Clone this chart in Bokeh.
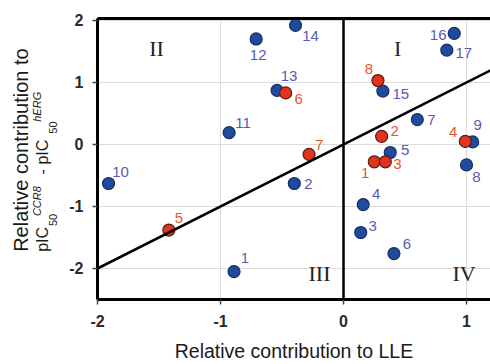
import math
from bokeh.plotting import figure
from bokeh.layouts import row
from bokeh.models import (Span, Slope, FixedTicker, LinearAxis,
                          ColumnDataSource, Range1d)
from bokeh.core.properties import value
from bokeh.embed import file_html
from bokeh.resources import INLINE

# ---------------- data ----------------
blue_ids = ["1", "2", "3", "4", "5", "6", "7", "8", "9", "10", "11", "12",
            "13", "14", "15", "16", "17"]
blue_lle = [-0.89, -0.40, 0.14, 0.16, 0.38, 0.41, 0.60, 1.00, 1.05, -1.91,
            -0.93, -0.71, -0.54, -0.39, 0.32, 0.90, 0.84]
blue_sel = [-2.05, -0.63, -1.42, -0.97, -0.13, -1.76, 0.40, -0.33, 0.04, -0.63,
            0.19, 1.70, 0.87, 1.92, 0.86, 1.79, 1.52]

red_ids = ["1", "2", "3", "4", "5", "6", "7", "8"]
red_lle = [0.25, 0.31, 0.34, 0.99, -1.42, -0.47, -0.28, 0.28]
red_sel = [-0.28, 0.13, -0.28, 0.05, -1.38, 0.83, -0.16, 1.03]

x_ticks = [-2, -1, 0, 1]
y_ticks = [-2, -1, 0, 1, 2]
x_tick_text = ["-2", "-1", "0", "1"]
y_tick_text = ["-2", "-1", "0", "1", "2"]

quadrant_names = ["I", "II", "III", "IV"]
quadrant_x = [0.44, -1.52, -0.195, 0.98]
quadrant_y = [1.55, 1.55, -2.08, -2.08]

x_title = "Relative contribution to LLE"
y_title_pieces = ["Relative contribution to", "pIC", "50", "CCR8",
                  " - pIC", "50", "hERG"]

# label offsets (screen px, style only)
blue_dx = [11, 14, 12, 13, 15, 13, 14, 10, 5, 12, 14, 2, 12, 15, 18, -16, 17]
blue_dy = [-14, 0, -7, -11, -2, -10, 0, 12, -17, -12, -10, 16, -14, 11, 3, 2, 3]
red_dx = [-9, 13, 12, -12, 10, 13, 10, -9]
red_dy = [11, -5, 2, -9, -12, 6, -9, -12]

# y-title piece layout (canvas px, style only)
yt_px = [20, 42, 52, 36, 42, 52, 36]
yt_py = [253, 253, 227, 217, 175, 134, 122]
yt_size = ["20px", "16px", "11px", "11px", "16px", "11px", "11px"]
yt_style = ["normal", "normal", "normal", "italic", "normal", "normal",
            "italic"]

FONT = "Liberation Sans"
SERIF = "Liberation Serif"

W, H = 490, 364
LW = 60                     # width of the y-title strip
X0, X1 = -2, 1.195
Y0, Y1 = -2.5, 2.03
FL, FT, FB = 97, 18, 301

# ---------- y-title strip (frame aligned with main plot frame) ----------
lt = figure(width=LW, height=H, x_range=Range1d(0, LW),
            y_range=Range1d(H - FB, H - FT),
            output_backend="svg", toolbar_location=None,
            x_axis_type=None, y_axis_type=None,
            min_border_left=0, min_border_right=0,
            min_border_top=FT, min_border_bottom=H - FB)
lt.outline_line_color = None
lt.grid.visible = False
for txt, px, py, sz, st in zip(y_title_pieces, yt_px, yt_py, yt_size,
                               yt_style):
    lt.text([px], [H - py], text=[txt], angle=math.pi / 2,
            text_align="left", text_baseline="middle",
            text_font=value(FONT), text_font_size=sz,
            text_font_style=st, text_color="#1a1a1a")

# ---------- main plot ----------
p = figure(width=W - LW, height=H, x_range=Range1d(X0, X1),
           y_range=Range1d(Y0, Y1), output_backend="svg",
           toolbar_location=None, min_border_left=FL - LW, min_border_right=0,
           min_border_top=FT, min_border_bottom=H - FB)
p.outline_line_color = None
p.background_fill_color = "white"

xa = p.below[0]
ya = p.left[0]
for ax in (xa, ya):
    ax.axis_line_width = 3
    ax.axis_line_color = "black"
    ax.major_tick_out = 5
    ax.major_tick_in = 0
    ax.major_tick_line_color = "#444444"
    ax.major_tick_line_width = 1.5
    ax.minor_tick_out = 0
    ax.minor_tick_in = 0
    ax.major_label_text_font = FONT
    ax.major_label_text_font_size = "16px"
    ax.major_label_text_font_style = "bold"
    ax.major_label_text_color = "#2a2a2a"
xa.ticker = FixedTicker(ticks=x_ticks)
ya.ticker = FixedTicker(ticks=y_ticks)
xa.major_label_overrides = {t: s for t, s in zip(x_ticks, x_tick_text)}
ya.major_label_overrides = {t: s for t, s in zip(y_ticks, y_tick_text)}
xa.major_label_standoff = 10
ya.major_label_standoff = 9
xa.axis_label = x_title
xa.axis_label_text_font = FONT
xa.axis_label_text_font_size = "19.5px"
xa.axis_label_text_font_style = "normal"
xa.axis_label_text_color = "#1a1a1a"
xa.axis_label_standoff = 10

top_axis = LinearAxis(ticker=FixedTicker(ticks=[]), axis_line_width=3,
                      axis_line_color="black", major_tick_out=0,
                      major_tick_in=0, minor_tick_out=0, minor_tick_in=0,
                      major_label_text_font_size="0px")
p.add_layout(top_axis, "above")

p.xgrid.ticker = FixedTicker(ticks=x_ticks)
p.ygrid.ticker = FixedTicker(ticks=y_ticks)
p.grid.grid_line_color = "#dedada"
p.grid.grid_line_width = 1

p.add_layout(Span(location=0, dimension="height", line_color="black",
                  line_width=2.5))
p.add_layout(Slope(gradient=1, y_intercept=0, line_color="black",
                   line_width=2.5))

bsrc = ColumnDataSource(dict(x=blue_lle, y=blue_sel, t=blue_ids,
                             dx=blue_dx, dy=blue_dy))
rsrc = ColumnDataSource(dict(x=red_lle, y=red_sel, t=red_ids,
                             dx=red_dx, dy=red_dy))
p.scatter("x", "y", source=bsrc, size=12, fill_color="#1f4a9e",
          line_color="#14305f", line_width=1.2)
p.scatter("x", "y", source=rsrc, size=12, fill_color="#e0341f",
          line_color="#5e1a10", line_width=1.2)
p.text("x", "y", text="t", source=bsrc, x_offset="dx", y_offset="dy",
       text_font=value(FONT), text_font_size="15px", text_color="#5a5ab4",
       text_align="center", text_baseline="middle")
p.text("x", "y", text="t", source=rsrc, x_offset="dx", y_offset="dy",
       text_font=value(FONT), text_font_size="15px", text_color="#e8552d",
       text_align="center", text_baseline="middle")

p.text(quadrant_x, quadrant_y, text=quadrant_names, text_font=value(SERIF),
       text_font_size="22px", text_color="#222222", text_align="center",
       text_baseline="middle")

layout = row(lt, p, spacing=0)
open("out.html", "w").write(file_html(layout, INLINE))
